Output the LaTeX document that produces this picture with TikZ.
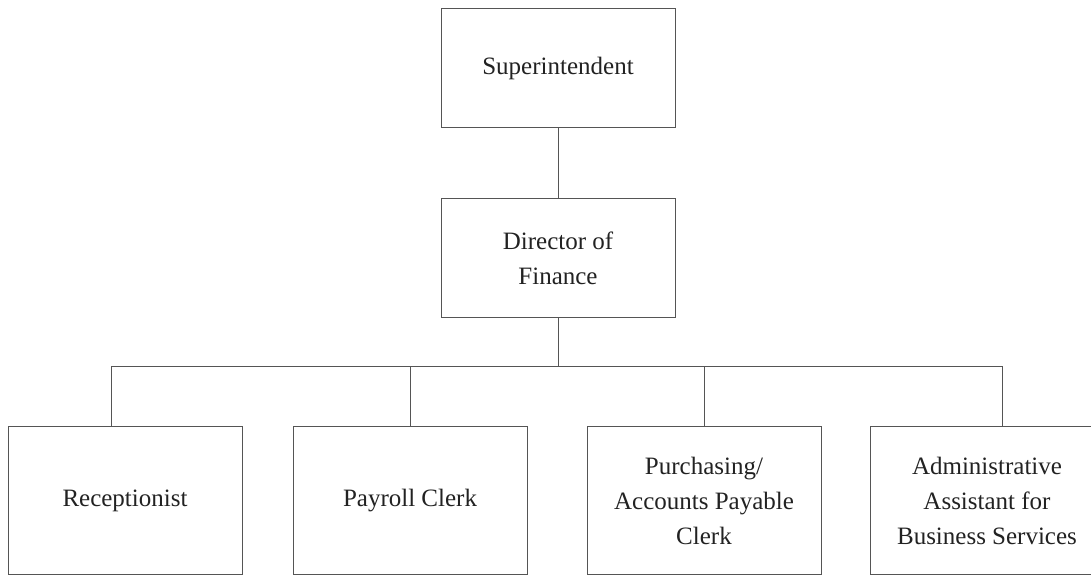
\documentclass[tikz,border=0pt]{standalone}
\usepackage{fontspec}
\setmainfont{Liberation Serif}
\definecolor{linec}{HTML}{555555}
\definecolor{textc}{HTML}{222222}
\begin{document}
\begin{tikzpicture}[x=1pt,y=1pt,
  box/.style={draw=linec, line width=1pt, minimum width=234pt, inner sep=0pt,
    align=center, text=textc, font=\fontsize{25}{35}\selectfont},
  topbox/.style={box, minimum height=119pt},
  lowbox/.style={box, minimum height=147pt},
  conn/.style={draw=linec, line width=1pt}]
\useasboundingbox (0,0) rectangle (1091,575);
\node[topbox] (sup) at (558,506.5) {Superintendent};
\node[topbox] (dir) at (558,316.5) {Director of\\Finance};
\node[lowbox] (rec) at (125,74.5) {Receptionist};
\node[lowbox] (pay) at (410,74.5) {Payroll Clerk};
\node[lowbox] (pur) at (704,74.5) {Purchasing/\\Accounts Payable\\Clerk};
\node[lowbox] (adm) at (987,74.5) {Administrative\\Assistant for\\Business Services};
\coordinate (bus) at (558,208);
\coordinate (bl) at (111,208);
\coordinate (br) at (1002,208);
\draw[conn] (sup) -- (dir);
\draw[conn] (dir) -- (bus);
\draw[conn] (bl |- rec.north) -- (bl) -- (br) -- (br |- adm.north);
\draw[conn] (pay.north) -- (pay.north |- bus);
\draw[conn] (pur.north) -- (pur.north |- bus);
\end{tikzpicture}
\end{document}
